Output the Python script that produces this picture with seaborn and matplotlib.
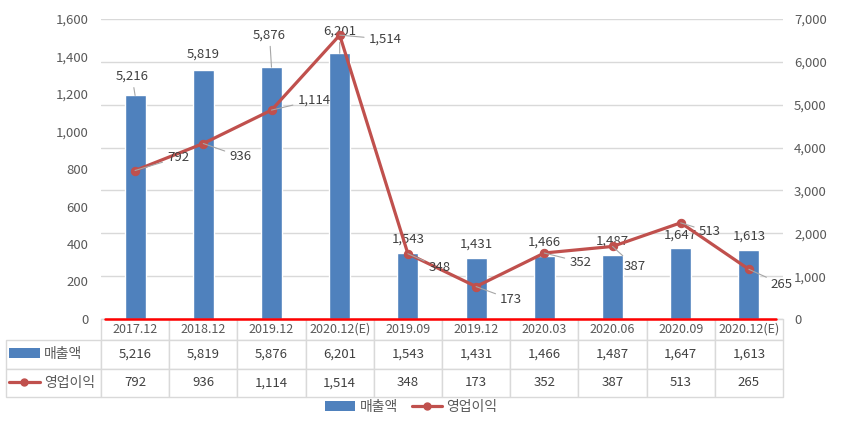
import numpy as np
import matplotlib
matplotlib.use("Agg")
import matplotlib.pyplot as plt
from matplotlib.patches import Patch
from matplotlib.lines import Line2D
import seaborn as sns

periods = ['2017.12', '2018.12', '2019.12', '2020.12(E)', '2019.09', '2019.12',
           '2020.03', '2020.06', '2020.09', '2020.12(E)']
sales = [5216, 5819, 5876, 6201, 1543, 1431, 1466, 1487, 1647, 1613]
op_profit = [792, 936, 1114, 1514, 348, 173, 352, 387, 513, 265]
sales_name = '매출액'
op_name = '영업이익'

# label offsets in pixels (hand moved labels like in the original)
bar_lbl_off = [(-3, 19), (0, 15), (-2, 32), (0, 22), (0, 14), (0, 14), (0, 14), (0, 14), (0, 13), (0, 14)]
line_lbl_off = [(32, 13), (26, -13), (26, 10), (29, -4), (21, -14), (24, -13), (25, -9), (11, -20), (18, -9), (22, -15)]

BLUE = '#4F81BD'
RED = '#C0504D'
GRID = '#D9D9D9'
TICK = '#595959'
LBL = '#404040'

sns.set_style('white')
plt.rcParams['font.family'] = ['Noto Sans CJK KR', 'DejaVu Sans']
FS = 9.5

W, H = 843, 424
fig = plt.figure(figsize=(W / 100, H / 100), dpi=100)
L, R, T, B = 101, 783, 19, 319
ax = fig.add_axes([L / W, 1 - B / H, (R - L) / W, (B - T) / H])
ax2 = ax.twinx()

pos = np.arange(len(periods))

# bars on the 0-7000 scale (right ticks)
sns.barplot(x=pos, y=sales, ax=ax, color=BLUE, width=0.31, saturation=1, native_scale=True)
ax.set_ylim(0, 7000)
ax.set_xlim(-0.5, len(periods) - 0.5)
ax.set_yticks(np.arange(0, 7001, 1000))
ax.set_yticklabels([f'{v:,}' for v in range(0, 7001, 1000)])
ax.yaxis.tick_right()
ax.grid(axis='y', color=GRID, lw=1)
ax.set_axisbelow(True)
ax.set_xticks([])
ax.set_xlabel('')
ax.set_ylabel('')
ax.tick_params(axis='y', length=0, pad=8, labelsize=FS, labelcolor=TICK)
for s in ['top', 'left', 'right']:
    ax.spines[s].set_visible(False)
ax.spines['bottom'].set_color(GRID)

# line on the 0-1600 scale (left ticks)
sns.lineplot(x=pos, y=op_profit, ax=ax2, color=RED, lw=2.3, marker='o',
             markersize=6, markeredgecolor=RED, zorder=5)
ax2.set_ylim(0, 1600)
ax2.set_yticks(np.arange(0, 1601, 200))
ax2.set_yticklabels([f'{v:,}' for v in range(0, 1601, 200)])
ax2.yaxis.tick_left()
ax2.tick_params(axis='y', length=0, pad=9, labelsize=FS, labelcolor=TICK)
ax2.set_ylabel('')
for s in ax2.spines.values():
    s.set_visible(False)
ax2.axhline(0, xmin=0.006, xmax=0.99, color='#FF0000', lw=1.8, zorder=6, clip_on=False)

leader = dict(arrowstyle='-', color='#A6A6A6', lw=0.8, shrinkA=1, shrinkB=0)
for i, v in enumerate(sales):
    dx, dy = bar_lbl_off[i]
    ax.annotate(f'{v:,}', xy=(i, v), xytext=(dx, dy), textcoords='offset pixels',
                ha='center', va='center', fontsize=FS, color=LBL,
                arrowprops=leader if dy > 18 else None)
for i, v in enumerate(op_profit):
    dx, dy = line_lbl_off[i]
    ax2.annotate(f'{v:,}', xy=(i, v), xytext=(dx, dy), textcoords='offset pixels',
                 ha='left', va='center', fontsize=FS, color=LBL, arrowprops=leader, zorder=7)

# data table under the chart (sizes in axes units)
pw, ph = R - L, B - T
tbl = ax.table(cellText=[[f'{v:,}' for v in sales], [f'{v:,}' for v in op_profit]],
               colLabels=periods, cellLoc='center', loc='bottom')
for r in (1, 2):
    tbl.add_cell(r, -1, width=0.1, height=0.1, text='')
tbl.auto_set_font_size(False)
tbl.set_fontsize(FS)
for (r, c), cell in tbl.get_celld().items():
    cell.set_edgecolor(GRID)
    cell.set_linewidth(1)
    cell.set_height((21 if r == 0 else 28.5) / ph)
    cell.set_width((95 if c == -1 else 68.2) / pw)
    cell.get_text().set_color(TICK if r == 0 else LBL)
    if r == 0:
        cell.get_text().set_fontsize(9)

bar_h = Patch(facecolor=BLUE, edgecolor='none')
line_h = Line2D([], [], color=RED, lw=2.3, marker='o', markersize=5)

for h, name, yc in [(bar_h, sales_name, 354), (line_h, op_name, 382.5)]:
    lg = fig.legend([h], [name], loc='center left', bbox_to_anchor=(9 / W, 1 - yc / H),
                    frameon=False, fontsize=10, handlelength=2.2, handletextpad=0.3,
                    borderpad=0, borderaxespad=0)
    for t in lg.get_texts():
        t.set_color(TICK)

lg = fig.legend([bar_h, line_h], [sales_name, op_name], loc='center',
                bbox_to_anchor=(411 / W, 1 - 407 / H), ncol=2, frameon=False,
                fontsize=10, handlelength=2.2, handletextpad=0.3, columnspacing=1.0,
                borderpad=0, borderaxespad=0)
for t in lg.get_texts():
    t.set_color(TICK)

fig.savefig('out.png', dpi=100)
